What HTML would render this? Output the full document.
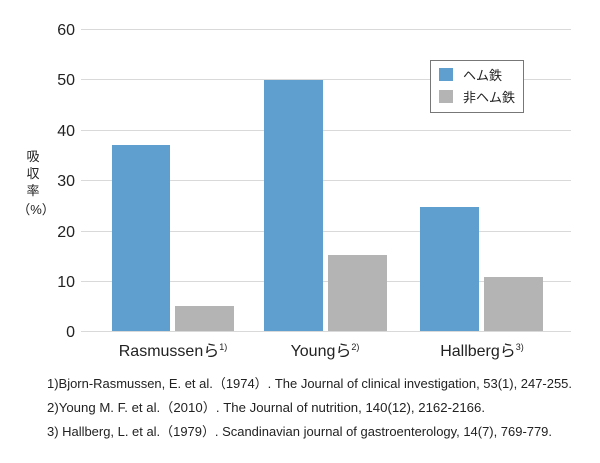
<!DOCTYPE html>
<html><head><meta charset="utf-8"><style>
body{margin:0;background:#fff;width:600px;height:458px;overflow:hidden}
svg{font-family:"Liberation Sans","Noto Sans CJK JP",sans-serif}
</style></head><body>
<svg width="600" height="458" xmlns="http://www.w3.org/2000/svg">
<g stroke="#d9d9d9" stroke-width="1">
<line x1="81" x2="571" y1="29.5" y2="29.5"/>
<line x1="81" x2="571" y1="79.5" y2="79.5"/>
<line x1="81" x2="571" y1="130.5" y2="130.5"/>
<line x1="81" x2="571" y1="180.5" y2="180.5"/>
<line x1="81" x2="571" y1="231.5" y2="231.5"/>
<line x1="81" x2="571" y1="281.5" y2="281.5"/>
<line x1="81" x2="571" y1="331.5" y2="331.5"/>
</g>
<g font-size="16" fill="#222" text-anchor="end">
<text x="75" y="35">60</text><text x="75" y="85">50</text><text x="75" y="136">40</text>
<text x="75" y="186">30</text><text x="75" y="237">20</text><text x="75" y="287">10</text><text x="75" y="337">0</text>
</g>
<g font-size="13" fill="#222" text-anchor="middle">
<text x="33" y="161">吸</text><text x="33" y="178">収</text><text x="33" y="195">率</text>
<text x="36" y="214">（%）</text>
</g>
<g fill="#5f9fcf">
<rect x="112" y="145" width="58" height="186"/>
<rect x="264" y="80" width="59" height="251"/>
<rect x="420" y="207" width="59" height="124"/>
</g>
<g fill="#b4b4b4">
<rect x="175" y="306" width="59" height="25"/>
<rect x="328" y="255" width="59" height="76"/>
<rect x="484" y="277" width="59" height="54"/>
</g>
<g font-size="16" fill="#222" text-anchor="middle">
<text x="173" y="356">Rasmussenら<tspan font-size="9" dy="-6">1)</tspan></text>
<text x="325" y="356">Youngら<tspan font-size="9" dy="-6">2)</tspan></text>
<text x="482" y="356">Hallbergら<tspan font-size="9" dy="-6">3)</tspan></text>
</g>
<rect x="430.5" y="60.5" width="93" height="52" fill="#fff" stroke="#777"/>
<rect x="439" y="68" width="14" height="13" fill="#5f9fcf"/>
<rect x="439" y="90" width="14" height="13" fill="#b4b4b4"/>
<g font-size="13" fill="#222"><text x="463" y="80">ヘム鉄</text><text x="463" y="102">非ヘム鉄</text></g>
<g font-size="13" fill="#222">
<text x="47" y="388" textLength="525" lengthAdjust="spacingAndGlyphs">1)Bjorn-Rasmussen, E. et al.（1974）. The Journal of clinical investigation, 53(1), 247-255.</text>
<text x="47" y="412" textLength="438" lengthAdjust="spacingAndGlyphs">2)Young M. F. et al.（2010）. The Journal of nutrition, 140(12), 2162-2166.</text>
<text x="47" y="436" textLength="505" lengthAdjust="spacingAndGlyphs">3) Hallberg, L. et al.（1979）. Scandinavian journal of gastroenterology, 14(7), 769-779.</text>
</g>
</svg>
</body></html>
